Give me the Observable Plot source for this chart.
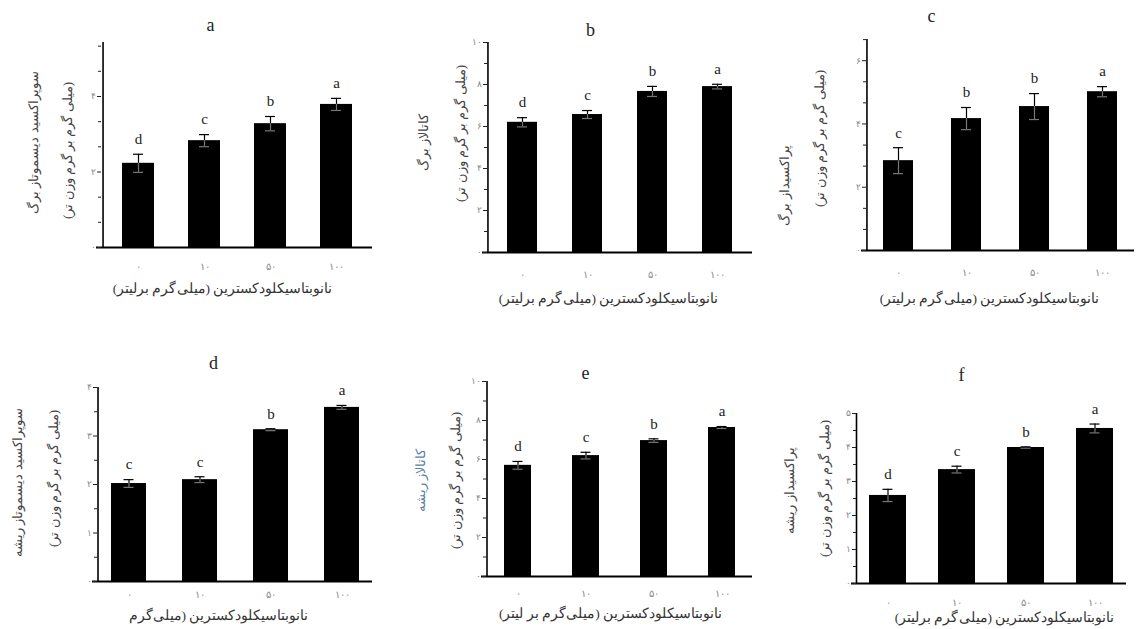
<!DOCTYPE html>
<html><head><meta charset="utf-8">
<script src="https://cdn.jsdelivr.net/npm/d3@7"></script>
<script src="https://cdn.jsdelivr.net/npm/@observablehq/plot@0.6"></script>
<style>
html,body{margin:0;padding:0;background:#fff;}
#chart{position:relative;width:1136px;height:629px;overflow:hidden;background:#fff;}
#chart svg{position:absolute;}
</style></head><body><div id="chart"></div>
<script>
// ---- data ----
const doses = ["۰", "۱۰", "۵۰", "۱۰۰"];
const panelLetters = ["a", "b", "c", "d", "e", "f"];

const sodLeaf = [2.23, 2.83, 3.28, 3.79];
const sodLeafErr = [0.24, 0.16, 0.19, 0.16];
const sodLeafSig = ["d", "c", "b", "a"];

const catLeaf = [6.2, 6.57, 7.67, 7.9];
const catLeafErr = [0.22, 0.19, 0.24, 0.11];
const catLeafSig = ["d", "c", "b", "a"];

const podLeaf = [2.84, 4.17, 4.55, 5.02];
const podLeafErr = [0.41, 0.35, 0.41, 0.16];
const podLeafSig = ["c", "b", "b", "a"];

const sodRoot = [2.02, 2.1, 3.13, 3.59];
const sodRootErr = [0.08, 0.06, 0.02, 0.04];
const sodRootSig = ["c", "c", "b", "a"];

const catRoot = [5.7, 6.2, 6.97, 7.64];
const catRootErr = [0.2, 0.17, 0.09, 0.05];
const catRootSig = ["d", "c", "b", "a"];

const podRoot = [2.59, 3.35, 4.0, 4.56];
const podRootErr = [0.18, 0.1, 0.02, 0.13];
const podRootSig = ["d", "c", "b", "a"];

const majorTicks = [[0, 2, 4], [0, 2, 4, 6, 8, 10], [0, 2, 4, 6], [0, 1, 2, 3, 4], [0, 2, 4, 6, 8, 10], [0, 1, 2, 3, 4, 5]];
const minorTicks = [
  [0.667, 1.333, 2.667, 3.333, 4.667, 5.333],
  [1, 3, 5, 7, 9],
  [0.667, 1.333, 2.667, 3.333, 4.667, 5.333, 6.667],
  [0.5, 1.5, 2.5, 3.5],
  [1, 3, 5, 7, 9],
  [0.5, 1.5, 2.5, 3.5, 4.5]
];
const yMaxes = [5.43, 10, 6.67, 4, 10, 5];

const yTitles1 = ["سوپراکسید دیسموتاز برگ", "کاتالاز برگ", "پراکسیداز برگ", "سوپراکسید دیسموتاز ریشه", "کاتالاز ریشه", "پراکسیداز ریشه"];
const yTitle2 = "\u200F(میلی گرم بر گرم وزن تر)\u200F";
const xTitles = [
  "نانوبتاسیکلودکسترین (میلی‌گرم برلیتر)\u200F",
  "نانوبتاسیکلودکسترین (میلی‌گرم برلیتر)\u200F",
  "نانوبتاسیکلودکسترین (میلی‌گرم برلیتر)\u200F",
  "نانوبتاسیکلودکسترین (میلی‌گرم",
  "نانوبتاسیکلودکسترین (میلی‌گرم بر لیتر)\u200F",
  "نانوبتاسیکلودکسترین (میلی‌گرم برلیتر)\u200F"
];

const series = [
  [sodLeaf, sodLeafErr, sodLeafSig],
  [catLeaf, catLeafErr, catLeafSig],
  [podLeaf, podLeafErr, podLeafSig],
  [sodRoot, sodRootErr, sodRootSig],
  [catRoot, catRootErr, catRootSig],
  [podRoot, podRootErr, podRootSig]
];

// ---- layout (page pixels) ----
const layout = [
  {cell: [0, 0, 380, 310], x0: 101, x1: 372, y0: 247, yTop: 42, bw: 32, step: 66.7, title: [210, 25], yt1: [33, 142], yt2: [67, 150], xtickY: 267, xtitle: [222, 288]},
  {cell: [380, 0, 376, 310], x0: 487, x1: 752, y0: 252, yTop: 42, bw: 30, step: 65.3, title: [590, 30], yt1: [423, 142], yt2: [460, 133], xtickY: 275, xtitle: [608, 298]},
  {cell: [756, 0, 380, 310], x0: 866, x1: 1134, y0: 250, yTop: 39, bw: 30, step: 68.3, title: [931, 16], yt1: [784, 185], yt2: [819, 138], xtickY: 273, xtitle: [989, 298]},
  {cell: [0, 310, 380, 319], x0: 97, x1: 372, y0: 581, yTop: 387, bw: 35, step: 71, title: [213, 363], yt1: [17, 482], yt2: [53, 478], xtickY: 595, xtitle: [218, 615]},
  {cell: [380, 310, 376, 319], x0: 486, x1: 752, y0: 576, yTop: 381, bw: 27, step: 68, title: [585, 373], yt1: [420, 480], yt2: [455, 480], xtickY: 594, xtitle: [610, 613]},
  {cell: [756, 310, 380, 319], x0: 856, x1: 1126, y0: 583, yTop: 413, bw: 37, step: 69, title: [961, 375], yt1: [789, 490], yt2: [824, 488], xtickY: 603, xtitle: [1004, 617]}
];

const fa = d => String(d).replace(/\d/g, c => "۰۱۲۳۴۵۶۷۸۹"[+c]);
const serif = "'Liberation Serif', 'DejaVu Serif', serif";
const chart = document.getElementById("chart");

layout.forEach((p, i) => {
  const [cl, ct, cw, ch] = p.cell;
  const [values, errors, sigs] = series[i];
  const data = doses.map((d, j) => ({dose: d, v: values[j], e: errors[j], sig: sigs[j]}));
  const w = p.x1 - p.x0;
  const pi = 1 - p.bw / p.step;
  const po = Math.max(0, (w / p.step - 4 + pi) / 2);
  const band = d3.scaleBand().domain(doses).range([0, w]).paddingInner(pi).paddingOuter(po);
  const firstCenter = band(doses[0]) + band.bandwidth() / 2;
  const rel = (ax, ay) => ({frameAnchor: "top-left", textAnchor: "middle", lineAnchor: "middle", dx: ax - p.x0, dy: ay - p.yTop});
  const capInset = Math.max(0, (band.bandwidth() - 10) / 2);

  const svg = Plot.plot({
    width: cw, height: ch,
    marginLeft: p.x0 - cl, marginRight: cl + cw - p.x1,
    marginTop: p.yTop - ct, marginBottom: ct + ch - p.y0,
    style: {fontFamily: serif, background: "transparent", overflow: "visible"},
    x: {domain: doses, paddingInner: pi, paddingOuter: po},
    y: {domain: [0, yMaxes[i]]},
    marks: [
      Plot.barY(data, {x: "dose", y: "v", fill: "#000"}),
      Plot.ruleX(data, {x: "dose", y1: d => d.v - d.e, y2: "v", stroke: "#777", strokeWidth: 1.2}),
      Plot.tickY(data, {x: "dose", y: d => d.v - d.e, stroke: "#777", strokeWidth: 1.2, insetLeft: capInset, insetRight: capInset}),
      Plot.ruleX(data, {x: "dose", y1: "v", y2: d => d.v + d.e, stroke: "#000", strokeWidth: 1.2}),
      Plot.tickY(data, {x: "dose", y: d => d.v + d.e, stroke: "#000", strokeWidth: 1.2, insetLeft: capInset, insetRight: capInset}),
      Plot.text(data, {x: "dose", y: d => d.v + d.e, text: "sig", dy: -15, fontSize: 15, fontFamily: serif, fill: "#222"}),
      Plot.ruleY([0], {stroke: "#000", strokeWidth: 2, insetLeft: -5}),
      Plot.ruleX([doses[0]], {x: d => d, y1: 0, y2: yMaxes[i], dx: -firstCenter, stroke: "#000", strokeWidth: 1.6}),
      Plot.axisY({ticks: majorTicks[i], tickSize: 4, tickPadding: 2, tickFormat: fa, fontSize: 9, fill: "#888", stroke: "#222", label: null}),
      Plot.axisY({ticks: minorTicks[i], tickSize: 3, tickFormat: () => "", stroke: "#222", label: null}),
      Plot.axisX({tickSize: 0, tickPadding: p.xtickY - p.y0 - 5, fontSize: 10, fill: "#888", label: null}),
      Plot.text([panelLetters[i]], {...rel(p.title[0], p.title[1]), fontSize: 18, fontFamily: serif, fill: "#222"}),
      Plot.text([yTitles1[i]], {...rel(p.yt1[0], p.yt1[1]), rotate: -90, fontSize: 13, fill: i === 4 ? "#5b7fa6" : "#444"}),
      Plot.text([yTitle2], {...rel(p.yt2[0], p.yt2[1]), rotate: -90, fontSize: 13, fill: "#444"}),
      Plot.text([xTitles[i]], {...rel(p.xtitle[0], p.xtitle[1]), fontSize: 13.5, fill: "#333"})
    ]
  });
  svg.style.left = cl + "px";
  svg.style.top = ct + "px";
  chart.appendChild(svg);
});
</script>
</body></html>
